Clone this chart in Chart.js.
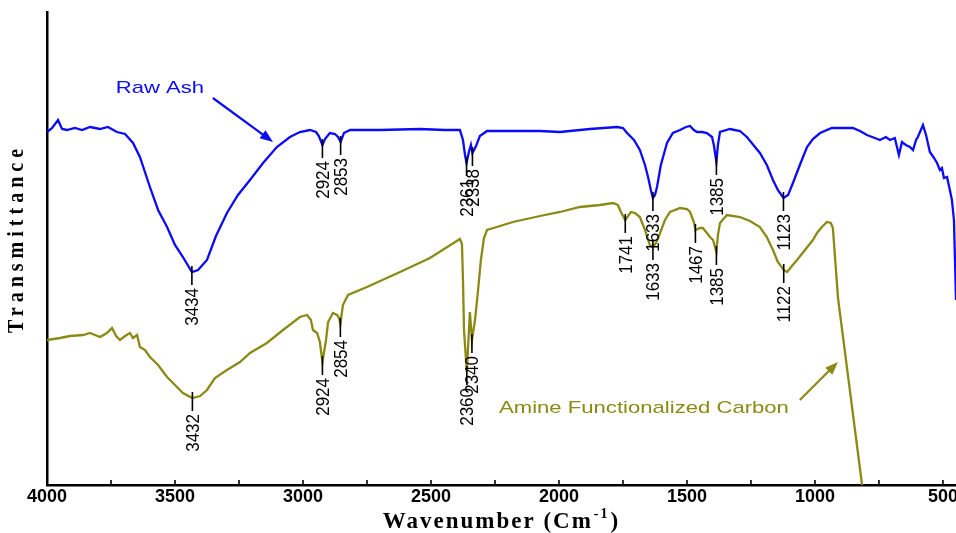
<!DOCTYPE html>
<html>
<head>
<meta charset="utf-8">
<script src="https://cdn.jsdelivr.net/npm/chart.js@4.4.1/dist/chart.umd.min.js"></script>
<style>
html,body{margin:0;padding:0;background:#fff;}
#c{display:block;}
</style>
</head>
<body>
<canvas id="c" width="956" height="533"></canvas>
<script>
// ---- Data ----
const rawAshWavenumber = [4000,3980,3957,3941,3922,3891,3863,3832,3793,3762,3727,3695,3664,3637,3598,3566,3531,3500,3469,3434,3410,3375,3340,3297,3254,3207,3156,3102,3051,3012,2973,2949,2938,2924,2914,2895,2875,2863,2853,2840,2816,2699,2543,2445,2387,2375,2367,2361,2352,2344,2338,2324,2309,2281,2074,1996,1879,1773,1750,1734,1707,1684,1664,1652,1641,1633,1625,1617,1602,1578,1555,1527,1504,1488,1473,1461,1441,1422,1402,1395,1385,1379,1371,1332,1293,1266,1215,1188,1164,1145,1123,1105,1086,1059,1031,1008,980,934,883,852,824,797,766,746,723,707,688,672,660,645,629,617,605,598,578,566,551,535,523,512,504,496,484,473,465,457,453,449];
const rawAshTransmittance = [70.6,71.4,73.0,71.2,71.0,71.4,71.0,71.6,71.2,71.6,70.6,70.2,68.4,65.6,59.6,55.0,51.6,48.0,45.6,42.6,43.0,45.0,49.8,54.4,58.0,61.0,64.4,67.6,69.6,70.6,71.0,70.6,69.8,68.0,69.2,70.4,70.2,69.6,68.6,70.4,71.0,71.0,71.2,71.0,71.0,69.0,66.0,64.4,66.6,68.0,66.4,67.8,69.8,70.8,70.8,70.6,71.2,71.6,71.4,70.4,69.0,67.0,64.0,61.6,59.0,57.4,58.0,59.6,64.0,68.4,70.4,71.0,71.6,71.8,71.0,70.6,70.6,70.4,69.6,68.0,64.6,68.0,70.6,71.2,70.8,69.6,66.4,64.0,61.0,59.0,57.4,58.0,60.4,64.0,67.6,69.2,70.4,71.4,71.4,71.4,70.8,70.0,69.4,69.0,69.6,69.0,69.4,66.0,68.6,68.0,67.6,67.0,69.0,69.6,72.0,70.0,66.6,65.4,64.4,63.0,63.4,61.4,61.6,59.0,57.0,53.0,45.0,37.0];

const amineWavenumber = [4000,3949,3910,3859,3832,3793,3766,3746,3730,3715,3695,3676,3664,3648,3637,3617,3598,3566,3531,3500,3469,3432,3402,3375,3344,3297,3246,3207,3141,3078,3012,2984,2969,2961,2945,2934,2924,2910,2902,2883,2867,2859,2854,2844,2824,2750,2621,2504,2387,2379,2375,2371,2360,2348,2340,2328,2316,2305,2293,2281,2230,2180,2074,1996,1918,1840,1789,1770,1758,1741,1730,1719,1703,1684,1664,1645,1633,1621,1605,1586,1566,1527,1500,1488,1473,1467,1449,1438,1422,1410,1398,1385,1379,1371,1344,1293,1254,1215,1188,1164,1145,1122,1109,1090,1070,1039,1008,992,973,953,938,930,910,816,805];
const amineTransmittance = [29.0,29.4,29.8,30.0,30.4,29.6,30.4,31.4,29.8,29.0,29.8,30.4,29.4,30.0,27.6,27.0,25.6,24.0,21.6,20.0,18.4,17.4,17.8,19.0,21.4,23.0,24.6,26.4,28.4,31.0,33.6,34.0,33.0,31.0,30.4,28.6,24.6,29.0,32.6,34.4,34.0,33.4,32.2,36.0,38.0,39.6,42.6,45.4,49.2,48.2,41.0,31.0,22.6,34.6,29.0,33.0,39.0,45.0,49.4,51.0,51.8,52.6,53.8,54.6,55.6,56.0,56.4,56.0,54.6,53.0,53.8,54.6,54.4,53.6,51.0,48.0,47.6,48.4,50.4,53.0,54.6,55.4,55.2,54.6,52.6,51.0,51.4,51.4,50.4,49.6,49.0,46.6,50.0,52.4,54.0,53.6,52.8,51.6,49.6,47.0,44.6,43.0,42.6,43.8,45.0,47.0,49.0,50.4,51.6,52.6,52.4,51.4,37.4,0,-5];

const rawAshPeaks = [3434,2924,2853,2361,2338,1633,1385,1123];
const aminePeaks = [3432,2924,2854,2360,2340,1741,1633,1467,1385,1122];

const xTickValues = [500,750,1000,1250,1500,1750,2000,2250,2500,2750,3000,3250,3500,3750,4000];
const xLabelledTicks = [500,1000,1500,2000,2500,3000,3500,4000];

const seriesNames = ['Raw Ash','Amine Functionalized Carbon'];
const xTitle = 'Wavenumber (Cm';
const xTitleSup = '-1';
const yTitle = 'Transmittance';

// ---- Styles ----
const BLUE = '#0b0bf5';
const OLIVE = '#8a8a14';

function toPoints(xs, ys){ return xs.map((x,i)=>({x:x, y:ys[i]})); }

function drawArrow(ctx, x1, y1, x2, y2, color){
  const ang = Math.atan2(y2-y1, x2-x1);
  const hl = 13, hw = 5;
  ctx.save();
  ctx.strokeStyle = color; ctx.fillStyle = color; ctx.lineWidth = 2.2;
  ctx.beginPath();
  ctx.moveTo(x1,y1);
  ctx.lineTo(x2 - Math.cos(ang)*hl*0.8, y2 - Math.sin(ang)*hl*0.8);
  ctx.stroke();
  ctx.beginPath();
  ctx.moveTo(x2,y2);
  ctx.lineTo(x2 - Math.cos(ang)*hl - Math.sin(ang)*hw, y2 - Math.sin(ang)*hl + Math.cos(ang)*hw);
  ctx.lineTo(x2 - Math.cos(ang)*hl + Math.sin(ang)*hw, y2 - Math.sin(ang)*hl - Math.cos(ang)*hw);
  ctx.closePath();
  ctx.fill();
  ctx.restore();
}

const decor = {
  id: 'decor',
  beforeDraw(chart){
    const ctx = chart.ctx;
    ctx.save(); ctx.fillStyle = '#ffffff'; ctx.fillRect(0,0,chart.width,chart.height); ctx.restore();
  },
  afterDatasetsDraw(chart){
    const ctx = chart.ctx;
    const xs = chart.scales.x, ys = chart.scales.y;
    const area = chart.chartArea;

    // inward ticks on x axis
    ctx.save();
    ctx.strokeStyle = '#000'; ctx.lineWidth = 1.6;
    xTickValues.forEach(v => {
      const px = xs.getPixelForValue(v);
      ctx.beginPath(); ctx.moveTo(px, area.bottom); ctx.lineTo(px, area.bottom - 5); ctx.stroke();
    });
    ctx.restore();

    // peak markers
    function peaks(dsIndex, list){
      const data = chart.data.datasets[dsIndex].data;
      list.forEach(p => {
        let best = data[0];
        data.forEach(d => { if (Math.abs(d.x - p) < Math.abs(best.x - p)) best = d; });
        const px = xs.getPixelForValue(best.x);
        const py = ys.getPixelForValue(best.y);
        ctx.save();
        ctx.strokeStyle = '#000'; ctx.lineWidth = 1.6;
        ctx.beginPath(); ctx.moveTo(px, py - 6); ctx.lineTo(px, py + 13); ctx.stroke();
        ctx.translate(px, py + 16);
        ctx.scale(1.12, 1);
        ctx.rotate(-Math.PI/2);
        ctx.fillStyle = '#000';
        ctx.font = '17px "Liberation Sans", Arial, sans-serif';
        ctx.textAlign = 'right';
        ctx.textBaseline = 'middle';
        ctx.fillText(String(p), 0, 1);
        ctx.restore();
      });
    }
    peaks(0, rawAshPeaks);
    peaks(1, aminePeaks);

    // series labels with arrows
    function label(text, wx, vy, color){
      ctx.save();
      ctx.translate(xs.getPixelForValue(wx), ys.getPixelForValue(vy));
      ctx.scale(1.3, 1);
      ctx.fillStyle = color;
      ctx.font = '17px "Liberation Sans", Arial, sans-serif';
      ctx.textAlign = 'center'; ctx.textBaseline = 'middle';
      ctx.fillText(text, 0, 0);
      ctx.restore();
    }
    label(seriesNames[0], 3559, 79.4, BLUE);
    drawArrow(ctx, xs.getPixelForValue(3352), ys.getPixelForValue(77.4), xs.getPixelForValue(3117), ys.getPixelForValue(68.6), BLUE);
    label(seriesNames[1], 1668, 15.4, OLIVE);
    drawArrow(ctx, xs.getPixelForValue(1059), ys.getPixelForValue(17), xs.getPixelForValue(910), ys.getPixelForValue(24.6), OLIVE);
  },
  afterDraw(chart){
    const ctx = chart.ctx;
    const area = chart.chartArea;
    // x title with superscript
    ctx.save();
    ctx.fillStyle = '#000';
    ctx.textBaseline = 'alphabetic';
    ctx.letterSpacing = '2px';
    const mainFont = 'bold 23px "Liberation Serif", "Times New Roman", serif';
    const supFont = 'bold 14px "Liberation Serif", "Times New Roman", serif';
    ctx.font = mainFont; const w1 = ctx.measureText(xTitle).width; const w3 = ctx.measureText(')').width;
    ctx.font = supFont; const w2 = ctx.measureText(xTitleSup).width;
    const total = w1 + w2 + w3 + 2;
    let x0 = (area.left + area.right)/2 - total/2;
    const yb = chart.height - 5;
    ctx.textAlign = 'left';
    ctx.font = mainFont; ctx.fillText(xTitle, x0, yb);
    ctx.font = supFont; ctx.fillText(xTitleSup, x0 + w1 + 1, yb - 10);
    ctx.font = mainFont; ctx.fillText(')', x0 + w1 + w2 + 2, yb);
    ctx.restore();

    // y title
    ctx.save();
    ctx.fillStyle = '#000';
    ctx.letterSpacing = '5px';
    ctx.translate(17, (area.top + area.bottom)/2 - 10);
    ctx.scale(1.15, 1);
    ctx.rotate(-Math.PI/2);
    ctx.font = 'bold 20px "Liberation Serif", "Times New Roman", serif';
    ctx.textAlign = 'center'; ctx.textBaseline = 'middle';
    ctx.fillText(yTitle, 0, 0);
    ctx.restore();
  }
};

new Chart(document.getElementById('c'), {
  type: 'line',
  data: {
    datasets: [
      { label: seriesNames[0], data: toPoints(rawAshWavenumber, rawAshTransmittance), borderColor: BLUE, borderWidth: 2.3, pointRadius: 0, tension: 0, fill: false },
      { label: seriesNames[1], data: toPoints(amineWavenumber, amineTransmittance), borderColor: OLIVE, borderWidth: 2.3, pointRadius: 0, tension: 0, fill: false }
    ]
  },
  options: {
    responsive: false,
    animation: false,
    devicePixelRatio: 1,
    layout: { padding: { top: 12, left: 0, right: 0, bottom: 0 } },
    plugins: { legend: { display: false }, tooltip: { enabled: false } },
    scales: {
      x: {
        type: 'linear', reverse: true, min: 449, max: 4000,
        grid: { display: false, drawTicks: false },
        border: { display: true, color: '#000', width: 2.5 },
        afterBuildTicks: axis => { axis.ticks = xTickValues.map(v => ({ value: v })); },
        ticks: {
          autoSkip: false, maxRotation: 0, minRotation: 0, padding: 1,
          color: '#000',
          font: { family: '"Liberation Sans", Arial, sans-serif', size: 18, weight: 'bold' },
          callback: v => (xLabelledTicks.includes(v) ? String(v) : '')
        },
        afterFit: s => { s.height = 48; }
      },
      y: {
        min: 0, max: 94.6,
        grid: { display: false, drawTicks: false },
        border: { display: true, color: '#000', width: 2.5 },
        ticks: { display: false },
        afterFit: s => { s.width = 47; }
      }
    }
  },
  plugins: [decor]
});
</script>
</body>
</html>
